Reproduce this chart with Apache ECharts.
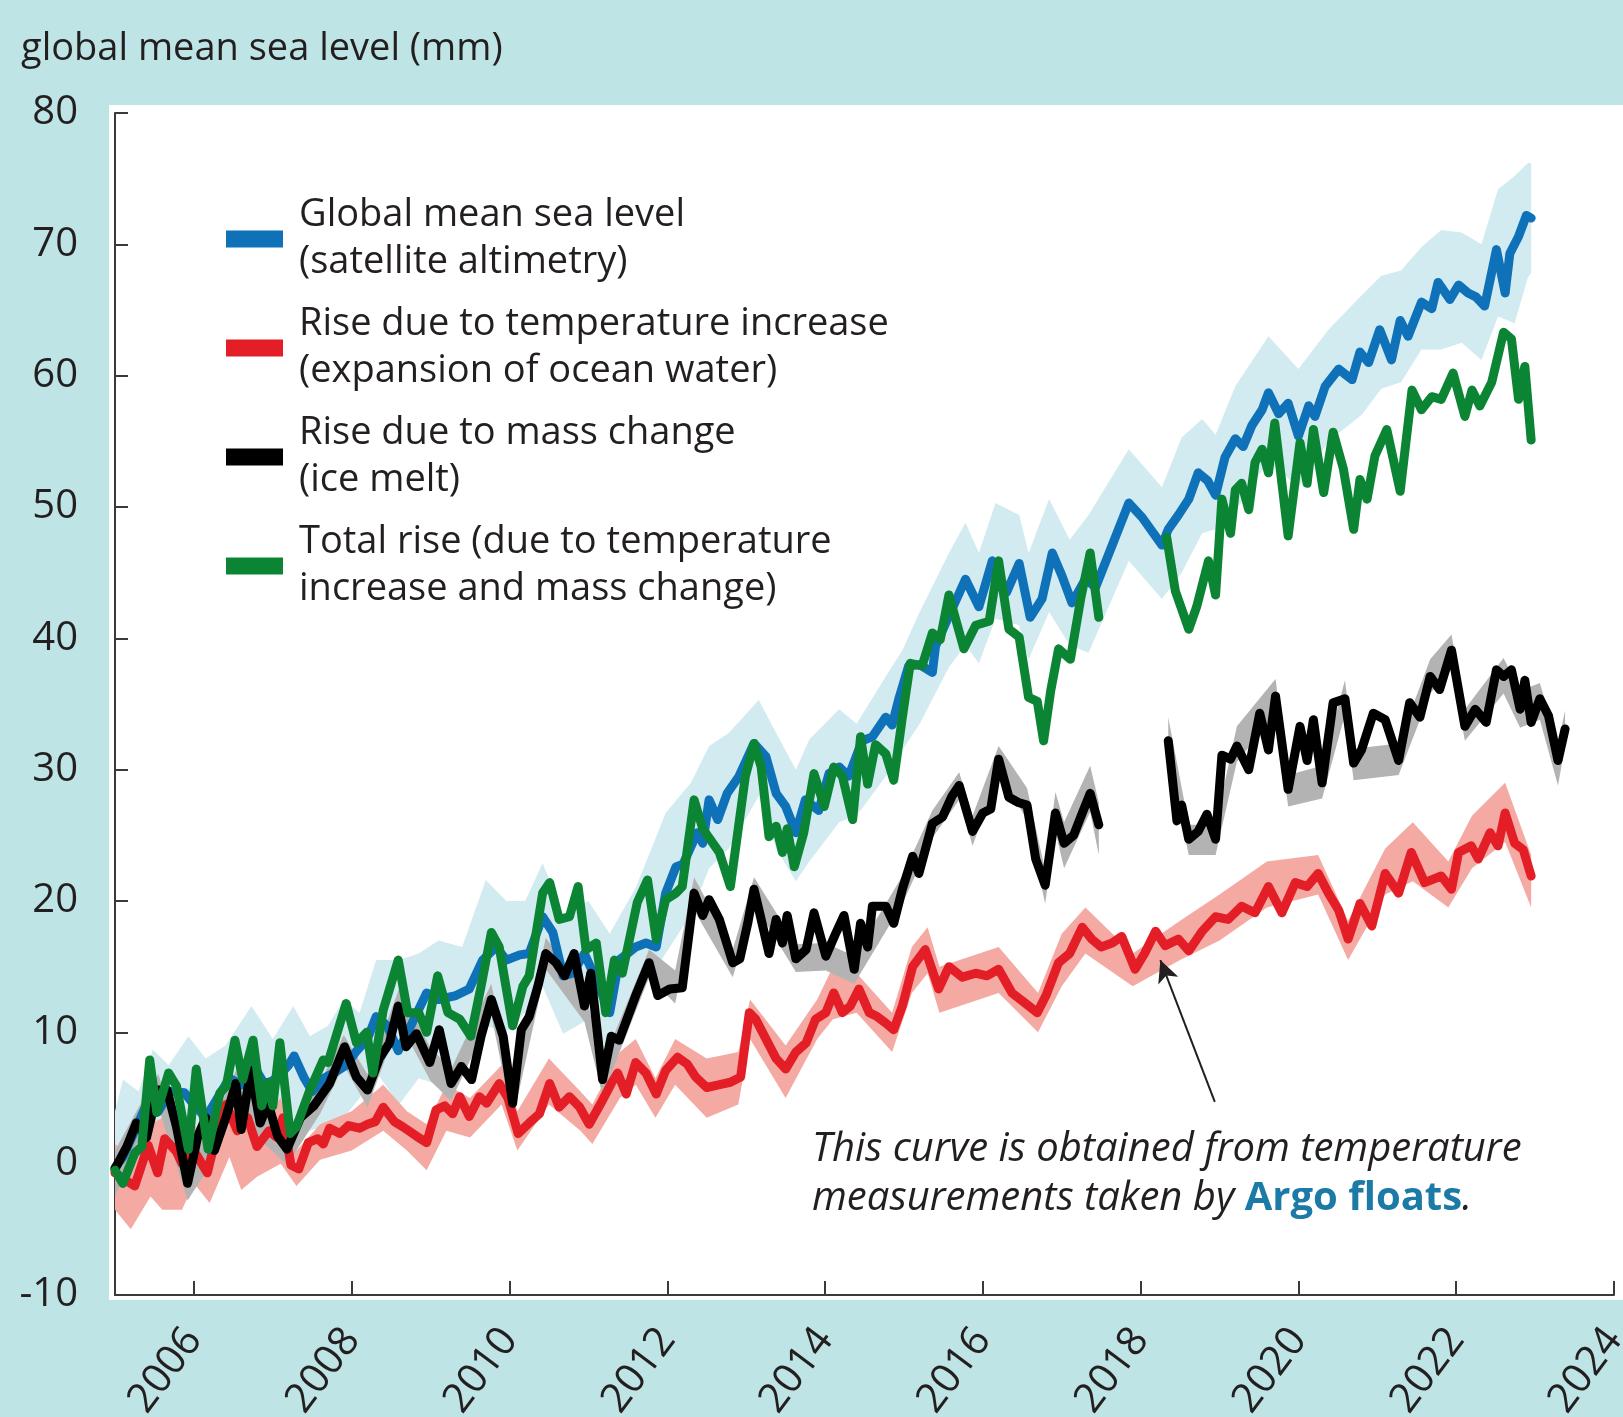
<!DOCTYPE html>
<html>
<head>
<meta charset="utf-8">
<style>
  html, body { margin: 0; padding: 0; background: #bfe4e5; }
  #main { width: 1623px; height: 1417px; }
</style>
<script src="https://cdn.jsdelivr.net/npm/echarts@6/dist/echarts.min.js"></script>
</head>
<body>
<div id="main"></div>
<script>
// axis ticks
var yearTicks = [2006, 2008, 2010, 2012, 2014, 2016, 2018, 2020, 2022, 2024];

// legend labels (two lines each)
var legendNames = {
    gmsl: 'Global mean sea level\n(satellite altimetry)',
    thermo: 'Rise due to temperature increase\n(expansion of ocean water)',
    mass: 'Rise due to mass change\n(ice melt)',
    total: 'Total rise (due to temperature\nincrease and mass change)'
};

// global mean sea level, satellite altimetry [year, mm]
var gmsl = [
    [2005.0, -0.3], [2005.1, 0.5], [2005.25, 2.5], [2005.4, 4.5], [2005.55, 4.0], [2005.7, 5.5],
    [2005.88, 5.4], [2006.0, 4.5], [2006.15, 3.5], [2006.3, 5.0], [2006.45, 6.5], [2006.6, 6.0],
    [2006.75, 7.5], [2006.9, 6.0], [2007.05, 6.5], [2007.2, 7.5], [2007.27, 8.2], [2007.4, 6.5],
    [2007.5, 5.5], [2007.65, 6.5], [2007.8, 7.0], [2007.93, 7.5], [2008.05, 8.5], [2008.2, 9.5],
    [2008.31, 11.2], [2008.45, 10.5], [2008.59, 8.6], [2008.75, 10.5], [2008.95, 13.0], [2009.1, 12.5],
    [2009.32, 12.8], [2009.49, 13.3], [2009.66, 15.5], [2009.83, 16.5], [2009.96, 15.5], [2010.13, 15.9],
    [2010.25, 16.0], [2010.42, 18.8], [2010.55, 17.6], [2010.68, 14.3], [2010.8, 14.5], [2010.95, 16.0],
    [2011.1, 14.0], [2011.27, 11.5], [2011.39, 15.5], [2011.6, 16.5], [2011.73, 16.8], [2011.86, 16.5],
    [2011.98, 20.6], [2012.11, 22.6], [2012.2, 22.8], [2012.38, 25.2], [2012.45, 24.4], [2012.53, 27.7],
    [2012.64, 26.2], [2012.76, 28.2], [2012.91, 29.5], [2013.1, 32.0], [2013.25, 31.0], [2013.38, 28.2],
    [2013.5, 27.2], [2013.63, 25.2], [2013.75, 27.7], [2013.92, 26.9], [2014.05, 29.7], [2014.18, 30.2],
    [2014.3, 29.5], [2014.47, 32.2], [2014.6, 32.5], [2014.77, 34.0], [2014.85, 33.4], [2014.94, 35.5],
    [2015.06, 37.9], [2015.2, 38.0], [2015.36, 37.4], [2015.4, 39.4], [2015.57, 41.7], [2015.78, 44.5],
    [2015.95, 42.4], [2016.12, 45.9], [2016.3, 43.5], [2016.46, 45.7], [2016.6, 41.6], [2016.75, 43.0],
    [2016.88, 46.5], [2017.0, 44.8], [2017.13, 42.7], [2017.3, 44.5], [2017.43, 43.9], [2017.64, 47.1],
    [2017.85, 50.3], [2018.02, 49.2], [2018.27, 47.1], [2018.35, 48.3], [2018.48, 49.4], [2018.61, 50.6],
    [2018.73, 52.6], [2018.85, 52.0], [2018.95, 50.9], [2019.07, 53.8], [2019.2, 55.2], [2019.3, 54.6],
    [2019.41, 56.2], [2019.54, 57.4], [2019.62, 58.7], [2019.75, 57.1], [2019.87, 57.9], [2020.0, 55.4],
    [2020.13, 57.7], [2020.21, 56.9], [2020.34, 59.2], [2020.51, 60.5], [2020.68, 59.7], [2020.78, 61.8],
    [2020.89, 61.0], [2021.03, 63.5], [2021.18, 61.2], [2021.29, 64.2], [2021.39, 63.0], [2021.56, 65.6],
    [2021.69, 65.1], [2021.77, 67.1], [2021.92, 65.8], [2022.03, 66.9], [2022.15, 66.3], [2022.25, 66.0],
    [2022.36, 65.3], [2022.51, 69.6], [2022.62, 66.3], [2022.68, 69.3], [2022.79, 70.6], [2022.89, 72.2],
    [2022.95, 72.0]
];
// [year, low, high]
var gmslBand = [
    [2005.0, -3.0, 4.0], [2005.1, -2.5, 6.4], [2005.3, -1.5, 5.5], [2005.48, -0.5, 8.7], [2005.68, -2.5, 7.5],
    [2005.93, -1.0, 9.7], [2006.15, -1.0, 8.0], [2006.4, 1.0, 9.0], [2006.73, 2.0, 12.0], [2007.0, 0.5, 9.5],
    [2007.26, 3.0, 12.0], [2007.47, 2.5, 9.7], [2007.7, 3.0, 10.5], [2007.9, 3.5, 12.5], [2008.1, 5.0, 11.5],
    [2008.31, 7.0, 15.5], [2008.6, 4.5, 15.5], [2008.85, 6.5, 16.0], [2009.1, 6.0, 17.0], [2009.4, 8.5, 16.5],
    [2009.7, 10.5, 21.6], [2009.96, 10.0, 20.0], [2010.2, 11.5, 20.0], [2010.42, 13.5, 22.9], [2010.68, 9.9, 19.0],
    [2011.0, 11.0, 20.0], [2011.27, 8.4, 17.5], [2011.6, 12.5, 21.0], [2011.98, 16.0, 26.7], [2012.3, 19.0, 29.0],
    [2012.53, 22.5, 31.8], [2012.78, 24.0, 32.8], [2013.16, 28.0, 35.3], [2013.38, 24.0, 32.8], [2013.63, 21.5, 30.0],
    [2013.8, 23.0, 32.3], [2014.18, 26.0, 34.6], [2014.4, 26.5, 33.5], [2014.77, 29.5, 37.1], [2014.98, 31.5, 39.1],
    [2015.2, 33.5, 42.0], [2015.57, 37.8, 46.5], [2015.78, 39.5, 48.8], [2015.95, 38.1, 46.5], [2016.16, 41.5, 50.3],
    [2016.46, 41.0, 49.4], [2016.58, 38.4, 46.5], [2016.84, 42.0, 50.6], [2017.1, 39.5, 47.5], [2017.34, 38.9, 49.4],
    [2017.85, 45.9, 54.4], [2018.27, 43.0, 51.5], [2018.52, 45.0, 55.3], [2018.78, 48.0, 56.7], [2018.95, 48.3, 55.5],
    [2019.2, 49.7, 59.2], [2019.62, 53.5, 63.0], [2020.0, 51.5, 60.5], [2020.38, 55.0, 63.5], [2020.8, 57.0, 66.1],
    [2021.05, 59.0, 67.6], [2021.3, 59.5, 68.0], [2021.56, 62.0, 69.8], [2021.81, 62.0, 71.1], [2022.07, 62.5, 70.9],
    [2022.32, 61.2, 70.0], [2022.53, 64.5, 74.2], [2022.74, 64.0, 75.2], [2022.91, 67.5, 76.2], [2022.95, 67.8, 76.2]
];

// rise due to temperature (Argo) [year, mm]
var thermo = [
    [2005.0, -0.7], [2005.12, -1.2], [2005.25, -1.7], [2005.42, 1.4], [2005.54, -0.7], [2005.63, 1.9],
    [2005.78, 0.9], [2005.85, 0.0], [2005.95, 1.5], [2006.05, 0.5], [2006.17, -0.7], [2006.28, 2.0],
    [2006.41, 4.5], [2006.55, 2.5], [2006.68, 3.5], [2006.8, 1.3], [2006.95, 2.5], [2007.05, 2.0],
    [2007.13, 3.5], [2007.23, -0.1], [2007.33, -0.4], [2007.45, 1.6], [2007.57, 1.9], [2007.64, 1.5],
    [2007.72, 2.7], [2007.85, 2.3], [2007.96, 2.9], [2008.1, 2.7], [2008.2, 3.0], [2008.3, 3.2],
    [2008.4, 4.3], [2008.54, 3.2], [2008.65, 2.8], [2008.82, 2.1], [2008.95, 1.6], [2009.07, 4.1],
    [2009.18, 4.4], [2009.28, 3.8], [2009.37, 5.1], [2009.49, 3.6], [2009.62, 5.1], [2009.71, 4.6],
    [2009.87, 6.1], [2009.98, 5.0], [2010.11, 2.3], [2010.25, 3.1], [2010.38, 3.8], [2010.51, 6.1],
    [2010.63, 4.3], [2010.76, 5.1], [2010.89, 4.3], [2011.01, 3.0], [2011.15, 4.5], [2011.29, 6.1],
    [2011.37, 6.9], [2011.48, 5.3], [2011.6, 7.7], [2011.73, 6.9], [2011.86, 5.3], [2011.98, 7.1],
    [2012.13, 8.1], [2012.25, 7.6], [2012.36, 6.6], [2012.5, 5.8], [2012.65, 6.0], [2012.8, 6.2],
    [2012.93, 6.6], [2013.04, 11.5], [2013.12, 11.0], [2013.25, 9.5], [2013.38, 8.0], [2013.5, 7.2],
    [2013.63, 8.5], [2013.76, 9.2], [2013.88, 11.0], [2014.01, 11.5], [2014.11, 13.0], [2014.22, 11.5],
    [2014.32, 12.0], [2014.43, 13.3], [2014.56, 11.5], [2014.66, 11.2], [2014.77, 10.7], [2014.87, 10.2],
    [2014.98, 12.0], [2015.11, 15.0], [2015.27, 16.3], [2015.44, 13.3], [2015.57, 15.0], [2015.74, 14.2],
    [2015.91, 14.5], [2016.05, 14.3], [2016.2, 14.8], [2016.37, 13.0], [2016.52, 12.3], [2016.69, 11.5],
    [2016.8, 12.8], [2016.96, 15.3], [2017.1, 16.0], [2017.26, 18.0], [2017.38, 17.1], [2017.5, 16.5],
    [2017.64, 16.8], [2017.76, 17.3], [2017.93, 14.8], [2018.05, 16.0], [2018.19, 17.7], [2018.31, 16.6],
    [2018.48, 17.1], [2018.61, 16.2], [2018.78, 17.7], [2018.95, 18.8], [2019.11, 18.6], [2019.28, 19.6],
    [2019.45, 19.1], [2019.62, 21.1], [2019.79, 19.1], [2019.96, 21.4], [2020.11, 21.1], [2020.25, 22.1],
    [2020.38, 20.6], [2020.51, 19.3], [2020.63, 17.1], [2020.78, 19.8], [2020.93, 18.1], [2021.1, 22.1],
    [2021.27, 20.6], [2021.43, 23.7], [2021.6, 21.4], [2021.81, 21.9], [2021.94, 20.9], [2022.03, 23.7],
    [2022.19, 24.2], [2022.28, 23.2], [2022.43, 25.2], [2022.53, 24.2], [2022.62, 26.7], [2022.74, 24.4],
    [2022.85, 23.9], [2022.95, 21.9]
];
var thermoBand = [
    [2005.0, -3.5, 1.5], [2005.2, -5.0, 0.5], [2005.45, -2.5, 3.0], [2005.6, -3.5, 3.5], [2005.85, -3.5, 2.0],
    [2006.0, -1.5, 3.0], [2006.2, -3.0, 1.5], [2006.45, 0.5, 6.0], [2006.6, -2.0, 4.0], [2006.8, -1.0, 3.0],
    [2007.1, 0.0, 5.0], [2007.3, -1.7, 1.0], [2007.6, 0.3, 3.0], [2008.0, 1.0, 4.0], [2008.4, 2.5, 6.0],
    [2008.7, 1.0, 4.0], [2008.95, -0.5, 3.0], [2009.2, 2.5, 6.0], [2009.5, 2.0, 5.0], [2009.9, 4.5, 7.5],
    [2010.1, 1.0, 4.0], [2010.5, 4.5, 8.0], [2010.9, 2.5, 5.5], [2011.05, 1.5, 4.5], [2011.4, 5.0, 8.5],
    [2011.6, 6.0, 9.5], [2011.85, 3.5, 6.5], [2012.1, 6.0, 9.5], [2012.5, 3.5, 8.0], [2012.9, 4.5, 8.5],
    [2013.05, 9.5, 12.5], [2013.5, 5.0, 9.0], [2013.9, 9.5, 12.5], [2014.1, 11.0, 15.0], [2014.4, 11.5, 14.5],
    [2014.85, 8.5, 11.5], [2015.1, 13.0, 16.5], [2015.3, 14.5, 18.0], [2015.45, 11.5, 15.0], [2016.2, 13.0, 16.5],
    [2016.7, 10.0, 13.0], [2017.0, 13.5, 17.5], [2017.3, 16.0, 19.5], [2017.9, 13.5, 16.0], [2018.5, 15.5, 18.5],
    [2019.0, 17.0, 20.5], [2019.6, 19.5, 23.0], [2020.25, 20.5, 23.5], [2020.63, 15.5, 18.5], [2021.1, 20.5, 24.0],
    [2021.45, 21.5, 26.0], [2021.9, 19.5, 23.0], [2022.2, 22.5, 26.5], [2022.62, 24.5, 29.0], [2022.95, 19.5, 23.5]
];

// rise due to mass change (GRACE), with the 2017-2018 gap [year, mm]
var massA = [
    [2005.0, -0.4], [2005.15, 1.3], [2005.27, 3.1], [2005.4, 2.0], [2005.54, 5.6], [2005.66, 5.6],
    [2005.78, 2.8], [2005.92, -1.5], [2006.05, 2.1], [2006.15, 3.5], [2006.26, 1.0], [2006.41, 3.6],
    [2006.53, 6.1], [2006.6, 2.6], [2006.72, 7.1], [2006.84, 3.1], [2006.94, 4.6], [2007.06, 2.1],
    [2007.18, 1.1], [2007.35, 3.5], [2007.52, 4.4], [2007.72, 6.1], [2007.91, 8.9], [2008.06, 6.6],
    [2008.2, 5.6], [2008.35, 8.0], [2008.48, 9.2], [2008.59, 12.0], [2008.69, 8.9], [2008.82, 9.9],
    [2008.99, 7.7], [2009.11, 10.2], [2009.26, 6.1], [2009.39, 7.4], [2009.52, 6.4], [2009.64, 9.7],
    [2009.77, 12.5], [2009.92, 9.7], [2010.04, 4.6], [2010.15, 10.2], [2010.25, 11.2], [2010.36, 13.5],
    [2010.46, 16.0], [2010.59, 15.3], [2010.7, 14.3], [2010.82, 16.0], [2010.95, 12.0], [2011.03, 14.5],
    [2011.18, 6.4], [2011.29, 9.7], [2011.39, 9.4], [2011.6, 12.8], [2011.77, 15.3], [2011.88, 12.8],
    [2012.03, 13.3], [2012.19, 13.4], [2012.34, 20.6], [2012.45, 18.9], [2012.53, 20.1], [2012.66, 18.6],
    [2012.83, 15.3], [2012.92, 15.6], [2013.02, 18.3], [2013.1, 20.9], [2013.19, 18.6], [2013.29, 16.0],
    [2013.38, 18.6], [2013.46, 16.8], [2013.52, 18.9], [2013.63, 15.6], [2013.76, 16.3], [2013.86, 19.1],
    [2014.01, 15.8], [2014.14, 17.6], [2014.24, 18.9], [2014.37, 14.8], [2014.45, 18.3], [2014.54, 16.5],
    [2014.6, 19.6], [2014.77, 19.6], [2014.87, 18.3], [2014.98, 20.9], [2015.11, 23.4], [2015.19, 22.1],
    [2015.36, 25.9], [2015.49, 26.4], [2015.61, 28.0], [2015.7, 28.8], [2015.87, 25.3], [2016.0, 26.7],
    [2016.1, 27.0], [2016.2, 30.8], [2016.33, 27.9], [2016.45, 27.5], [2016.56, 27.3], [2016.67, 23.2],
    [2016.79, 21.2], [2016.92, 26.7], [2017.03, 24.4], [2017.15, 25.0], [2017.26, 26.7], [2017.36, 28.2],
    [2017.47, 25.8]
];
var massB = [
    [2018.35, 32.2], [2018.46, 26.1], [2018.52, 27.3], [2018.61, 24.7], [2018.73, 25.3], [2018.84, 26.6],
    [2018.95, 24.7], [2019.03, 31.1], [2019.14, 30.8], [2019.22, 31.8], [2019.37, 30.0], [2019.51, 34.3],
    [2019.62, 31.5], [2019.71, 35.6], [2019.87, 28.5], [2020.02, 33.3], [2020.11, 30.7], [2020.19, 33.8],
    [2020.3, 29.0], [2020.44, 35.1], [2020.59, 35.4], [2020.7, 30.5], [2020.8, 31.5], [2020.95, 34.3],
    [2021.1, 33.8], [2021.27, 30.7], [2021.41, 35.1], [2021.54, 34.0], [2021.67, 37.1], [2021.79, 36.1],
    [2021.94, 39.1], [2022.11, 33.3], [2022.24, 34.6], [2022.38, 33.6], [2022.51, 37.6], [2022.6, 37.1],
    [2022.7, 37.6], [2022.81, 34.6], [2022.87, 36.8], [2022.95, 33.6], [2023.06, 35.4], [2023.17, 34.1],
    [2023.29, 30.7], [2023.38, 33.1]
];
var massBandA = [
    [2005.0, -2.5, 1.0], [2005.3, 1.8, 4.3], [2005.55, 4.3, 6.8], [2005.92, -2.8, -0.2], [2006.2, -0.2, 2.6],
    [2006.55, 4.8, 7.3], [2006.85, 1.8, 4.3], [2007.18, -0.1, 2.3], [2007.6, 3.8, 6.2], [2007.9, 7.5, 9.8],
    [2008.2, 4.3, 6.8], [2008.6, 10.8, 13.3], [2009.0, 6.3, 8.8], [2009.26, 4.8, 7.2], [2009.77, 11.3, 13.7],
    [2010.04, 3.3, 5.8], [2010.46, 14.8, 17.2], [2010.95, 10.8, 13.2], [2011.18, 5.2, 7.7], [2011.77, 14.2, 16.3],
    [2012.1, 12.2, 14.7], [2012.34, 19.3, 21.8], [2012.83, 14.2, 16.3], [2013.1, 19.8, 21.8], [2013.63, 14.6, 16.7],
    [2014.01, 14.7, 16.8], [2014.37, 13.7, 15.8], [2014.98, 19.8, 21.9], [2015.36, 24.8, 26.9], [2015.7, 27.7, 29.8],
    [2015.87, 24.2, 26.5], [2016.2, 29.7, 31.8], [2016.56, 26.2, 28.6], [2016.79, 19.8, 22.3], [2016.92, 25.3, 28.3],
    [2017.03, 22.5, 26.0], [2017.36, 26.8, 30.3], [2017.47, 23.5, 27.5]
];
var massBandB = [
    [2018.35, 31.0, 34.0], [2018.61, 23.5, 25.8], [2018.95, 23.5, 25.8], [2019.22, 30.6, 33.3], [2019.71, 34.2, 36.9],
    [2019.87, 27.2, 29.6], [2020.3, 27.8, 30.3], [2020.59, 34.2, 36.8], [2020.7, 29.2, 31.6], [2021.27, 29.6, 32.0],
    [2021.67, 35.8, 38.4], [2021.94, 37.8, 40.3], [2022.11, 32.2, 34.6], [2022.6, 35.8, 38.5], [2022.81, 33.2, 36.0],
    [2023.06, 33.8, 36.6], [2023.29, 28.8, 32.0], [2023.38, 31.8, 34.5]
];

// total rise (temperature + mass) [year, mm]
var totalA = [
    [2005.0, -0.5], [2005.1, -1.5], [2005.25, 0.8], [2005.34, 1.3], [2005.44, 7.9], [2005.53, 3.9],
    [2005.68, 6.9], [2005.78, 5.9], [2005.93, 1.1], [2006.03, 7.2], [2006.18, 1.1], [2006.33, 5.4],
    [2006.41, 5.9], [2006.52, 9.4], [2006.62, 6.4], [2006.75, 9.4], [2006.86, 4.4], [2006.94, 6.2],
    [2007.0, 4.4], [2007.09, 9.2], [2007.22, 2.3], [2007.3, 2.8], [2007.47, 5.6], [2007.64, 7.9],
    [2007.7, 7.7], [2007.93, 12.2], [2008.06, 9.2], [2008.19, 10.0], [2008.27, 6.9], [2008.4, 11.7],
    [2008.59, 15.5], [2008.71, 11.5], [2008.85, 11.5], [2008.95, 10.0], [2009.09, 14.3], [2009.22, 11.5],
    [2009.37, 11.0], [2009.51, 9.7], [2009.64, 13.5], [2009.77, 17.6], [2009.87, 16.5], [2010.04, 10.5],
    [2010.17, 13.5], [2010.25, 14.3], [2010.42, 20.6], [2010.51, 21.4], [2010.63, 18.6], [2010.76, 18.8],
    [2010.87, 21.1], [2010.97, 16.3], [2011.1, 16.8], [2011.22, 11.5], [2011.33, 15.5], [2011.43, 14.5],
    [2011.62, 19.9], [2011.75, 21.6], [2011.86, 17.1], [2011.98, 20.1], [2012.11, 20.6], [2012.19, 21.1],
    [2012.34, 27.7], [2012.45, 25.5], [2012.66, 23.7], [2012.8, 21.1], [2012.99, 29.5], [2013.1, 32.0],
    [2013.19, 30.2], [2013.29, 24.9], [2013.38, 25.7], [2013.46, 23.7], [2013.52, 25.5], [2013.61, 22.6],
    [2013.73, 25.2], [2013.86, 29.7], [2013.99, 27.2], [2014.11, 30.2], [2014.22, 29.5], [2014.35, 26.2],
    [2014.45, 32.5], [2014.54, 28.9], [2014.64, 31.9], [2014.77, 31.2], [2014.87, 29.2], [2014.98, 34.0],
    [2015.08, 38.1], [2015.23, 37.9], [2015.36, 40.4], [2015.46, 39.9], [2015.57, 43.3], [2015.76, 39.2],
    [2015.91, 41.0], [2016.08, 41.3], [2016.2, 45.9], [2016.33, 40.7], [2016.46, 40.1], [2016.58, 35.5],
    [2016.69, 35.2], [2016.77, 32.2], [2016.86, 36.0], [2016.96, 39.2], [2017.11, 38.4], [2017.24, 43.0],
    [2017.36, 46.5], [2017.47, 41.6]
];
var totalB = [
    [2018.33, 47.7], [2018.44, 43.6], [2018.61, 40.7], [2018.71, 42.4], [2018.86, 45.9], [2018.95, 43.3],
    [2019.03, 50.6], [2019.14, 48.0], [2019.2, 51.3], [2019.28, 51.8], [2019.37, 49.8], [2019.45, 53.4],
    [2019.54, 54.4], [2019.62, 52.6], [2019.7, 56.4], [2019.87, 47.8], [2020.02, 54.9], [2020.11, 51.8],
    [2020.19, 55.9], [2020.32, 51.1], [2020.44, 55.7], [2020.57, 52.9], [2020.7, 48.3], [2020.78, 52.1],
    [2020.87, 50.6], [2020.97, 53.9], [2021.12, 55.9], [2021.29, 51.2], [2021.44, 58.9], [2021.56, 57.4],
    [2021.69, 58.4], [2021.81, 58.2], [2021.96, 60.2], [2022.11, 56.9], [2022.2, 58.9], [2022.3, 57.7],
    [2022.45, 59.5], [2022.6, 63.3], [2022.7, 62.8], [2022.79, 58.2], [2022.87, 60.7], [2022.95, 55.1]
];

// arrow from the note to the Argo curve
var arrowFrom = [2018.94, 4.7];
var arrowTo = [2018.25, 15.5];

var FONT = '"Open Sans", Lato, sans-serif';
var TXT = '#231f20';

// gap marker between the two GRACE periods
function withGap(a, b) {
    return a.concat([[2017.9, '-']], b);
}

// shaded uncertainty band drawn as a polygon through the axes
function band(name, segments, color) {
    return {
        name: name,
        type: 'custom',
        silent: true,
        z: 1,
        data: segments.map(function (s, i) { return [s[0][0], s[0][1], i]; }),
        renderItem: function (params, api) {
            var seg = segments[api.value(2)];
            var pts = [];
            for (var i = 0; i < seg.length; i++) pts.push(api.coord([seg[i][0], seg[i][2]]));
            for (var j = seg.length - 1; j >= 0; j--) pts.push(api.coord([seg[j][0], seg[j][1]]));
            return { type: 'polygon', shape: { points: pts }, style: { fill: color } };
        }
    };
}

function line(name, data, color, extra) {
    var s = {
        name: name,
        type: 'line',
        data: data,
        z: 3,
        showSymbol: false,
        symbol: 'none',
        connectNulls: false,
        color: color,
        itemStyle: { color: color },
        lineStyle: { color: color, width: 9, cap: 'round', join: 'round' }
    };
    for (var k in extra) s[k] = extra[k];
    return s;
}

var chart = echarts.init(document.getElementById('main'));

var option = {
    animation: false,
    backgroundColor: '#bfe4e5',
    title: {
        text: 'global mean sea level (mm)',
        left: 21,
        top: 30,
        padding: 0,
        textStyle: { fontFamily: FONT, fontSize: 38, fontWeight: 'normal', color: TXT }
    },
    legend: {
        data: ['gmsl', 'thermo', 'mass', 'total'],
        orient: 'vertical',
        left: 226,
        top: 192,
        padding: 0,
        itemGap: 15,
        itemWidth: 57,
        itemHeight: 17,
        icon: 'rect',
        selectedMode: false,
        formatter: function (n) { return legendNames[n]; },
        textStyle: { fontFamily: FONT, fontSize: 38, lineHeight: 47, color: TXT, padding: [0, 0, 0, 11] }
    },
    grid: {
        left: 115,
        right: 9,
        top: 113,
        bottom: 122,
        containLabel: false,
        outerBoundsMode: 'none'
    },
    graphic: [
        {
            type: 'rect',
            z: -10,
            silent: true,
            shape: { x: 109, y: 105, width: 1514, height: 1195 },
            style: { fill: '#ffffff' }
        },
        {
            type: 'text',
            left: 812,
            top: 1130,
            z: 10,
            silent: true,
            style: {
                text: '{i|This curve is obtained from temperature}\n{i|measurements taken by }{b|Argo floats}{i|.}',
                rich: {
                    i: { fontFamily: FONT, fontStyle: 'italic', fontSize: 40, lineHeight: 49, fill: TXT },
                    b: { fontFamily: FONT, fontWeight: 'bold', fontSize: 40, lineHeight: 49, fill: '#1b7aa6' }
                }
            }
        }
    ],
    xAxis: {
        type: 'value',
        min: 2005,
        max: 2024,
        splitLine: { show: false },
        axisLine: { show: true, onZero: false, lineStyle: { color: '#3a3a3a', width: 2 } },
        axisTick: { show: true, inside: true, length: 14, customValues: yearTicks, lineStyle: { color: '#3a3a3a', width: 2 } },
        axisLabel: {
            customValues: yearTicks,
            rotate: 53,
            margin: 38,
            verticalAlign: 'middle',
            fontFamily: FONT,
            fontSize: 41,
            color: TXT,
            formatter: function (v) { return String(v); }
        }
    },
    yAxis: {
        type: 'value',
        min: -10,
        max: 80,
        interval: 10,
        splitLine: { show: false },
        axisLine: { show: true, onZero: false, lineStyle: { color: '#3a3a3a', width: 2 } },
        axisTick: { show: true, inside: true, length: 13, lineStyle: { color: '#3a3a3a', width: 2 } },
        axisLabel: { margin: 37, fontFamily: FONT, fontSize: 40, color: TXT }
    },
    series: [
        band('gmslBand', [gmslBand], '#d2ebf1'),
        band('thermoBand', [thermoBand], '#f4aaa3'),
        band('massBand', [massBandA, massBandB], '#b3b3b3'),
        line('gmsl', gmsl, '#0f72b9'),
        line('thermo', thermo, '#e41e26', {
            markLine: {
                silent: true,
                symbol: ['none', 'arrow'],
                symbolSize: [16, 22],
                label: { show: false },
                lineStyle: { color: TXT, width: 2, type: 'solid' },
                data: [[{ coord: arrowFrom }, { coord: arrowTo }]]
            }
        }),
        line('mass', withGap(massA, massB), '#000000'),
        line('total', withGap(totalA, totalB), '#0b8534')
    ]
};

chart.setOption(option);
</script>
</body>
</html>
